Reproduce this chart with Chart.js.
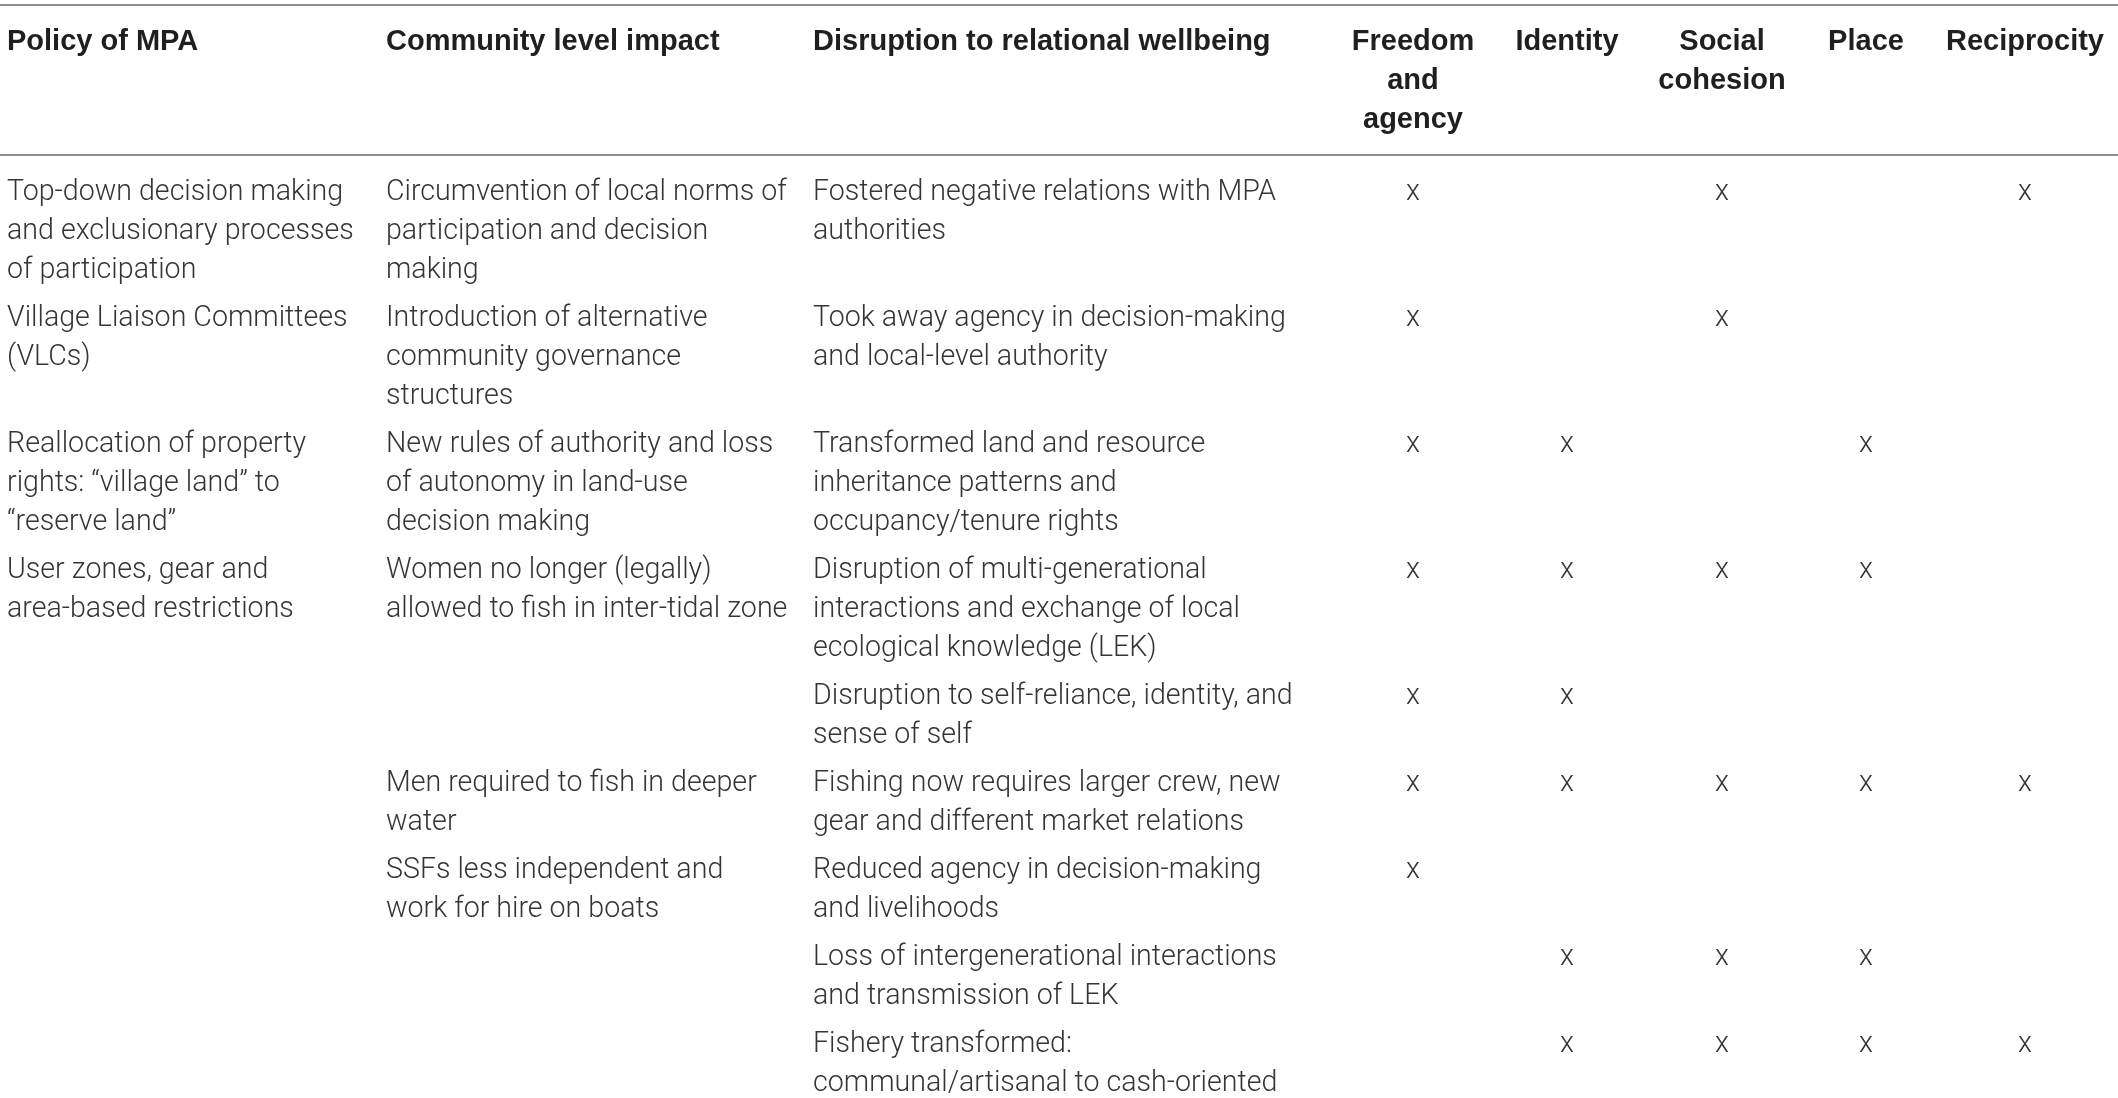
<!DOCTYPE html>
<html>
<head>
<meta charset="utf-8">
<title>Policy of MPA and disruption to relational wellbeing</title>
<script src="https://cdn.jsdelivr.net/npm/chart.js@4.4.1/dist/chart.umd.min.js"></script>
<style>
  html, body { margin: 0; padding: 0; background: #fff; }
  canvas { display: block; }
</style>
</head>
<body>
<canvas id="table" width="2118" height="1098" aria-label="Policy of MPA, community level impact and disruption to relational wellbeing"></canvas>
<script>
// column headings (one entry per printed line)
const headers = [
  ["Policy of MPA"],
  ["Community level impact"],
  ["Disruption to relational wellbeing"],
  ["Freedom", "and", "agency"],
  ["Identity"],
  ["Social", "cohesion"],
  ["Place"],
  ["Reciprocity"]
];

// first column: which table row each policy starts on
const policyRows = [0, 1, 2, 3];
const policies = [
  ["Top-down decision making", "and exclusionary processes", "of participation"],
  ["Village Liaison Committees", "(VLCs)"],
  ["Reallocation of property", "rights: \u201cvillage land\u201d to", "\u201creserve land\u201d"],
  ["User zones, gear and", "area-based restrictions"]
];

const impactRows = [0, 1, 2, 3, 5, 6];
const impacts = [
  ["Circumvention of local norms of", "participation and decision", "making"],
  ["Introduction of alternative", "community governance", "structures"],
  ["New rules of authority and loss", "of autonomy in land-use", "decision making"],
  ["Women no longer (legally)", "allowed to fish in inter-tidal zone"],
  ["Men required to fish in deeper", "water"],
  ["SSFs less independent and", "work for hire on boats"]
];

// one disruption per table row
const disruptions = [
  ["Fostered negative relations with MPA", "authorities"],
  ["Took away agency in decision-making", "and local-level authority"],
  ["Transformed land and resource", "inheritance patterns and", "occupancy/tenure rights"],
  ["Disruption of multi-generational", "interactions and exchange of local", "ecological knowledge (LEK)"],
  ["Disruption to self-reliance, identity, and", "sense of self"],
  ["Fishing now requires larger crew, new", "gear and different market relations"],
  ["Reduced agency in decision-making", "and livelihoods"],
  ["Loss of intergenerational interactions", "and transmission of LEK"],
  ["Fishery transformed:", "communal/artisanal to cash-oriented"]
];

// rows marked "x" in each wellbeing column
const freedomRows = [0, 1, 2, 3, 4, 5, 6];
const identityRows = [2, 3, 4, 5, 7, 8];
const cohesionRows = [0, 1, 3, 5, 7, 8];
const placeRows = [2, 3, 5, 7, 8];
const reciprocityRows = [0, 5, 8];

// ---- layout ----
const W = 2118, H = 1098;
const textX = [7, 386, 813];
const markX = [1413, 1567, 1722, 1866, 2025];
const rules = [5, 155];
const headBase = 50, bodyBase = 200, lineStep = 39, rowGap = 9;

const bodyFont = '300 28.6px Roboto, "Liberation Sans", sans-serif';
const headFont = 'bold 29px "Liberation Sans", Arial, sans-serif';

const rowLines = disruptions.map((d, r) => {
  let n = d.length;
  const p = policyRows.indexOf(r);
  if (p >= 0) n = Math.max(n, policies[p].length);
  const m = impactRows.indexOf(r);
  if (m >= 0) n = Math.max(n, impacts[m].length);
  return n;
});
const rowBase = [];
rowLines.reduce((y, n, r) => { rowBase[r] = y; return y + n * lineStep + rowGap; }, bodyBase);

function cellPoints(rows, cells, col) {
  return cells.flatMap((lines, i) =>
    lines.map((t, k) => ({ x: textX[col], y: rowBase[rows[i]] + k * lineStep, text: t })));
}

function markPoints(rows, col) {
  return rows.map(r => ({ x: markX[col], y: rowBase[r], text: "x" }));
}

const headPoints = headers.flatMap((lines, c) =>
  lines.map((t, k) => ({
    x: c < 3 ? textX[c] : markX[c - 3],
    y: headBase + k * lineStep,
    text: t,
    align: c < 3 ? "left" : "center"
  })));

function textSet(label, data, font, color, align) {
  return { label, data, textFont: font, textColor: color, textAlign: align,
           pointRadius: 0, pointHoverRadius: 0, clip: false };
}

const cellText = {
  id: "cellText",
  afterDatasetsDraw(chart) {
    const ctx = chart.ctx;
    chart.data.datasets.forEach((ds, i) => {
      const meta = chart.getDatasetMeta(i);
      ctx.save();
      ctx.font = ds.textFont;
      ctx.fillStyle = ds.textColor;
      ctx.textBaseline = "alphabetic";
      meta.data.forEach((el, j) => {
        const p = ds.data[j];
        ctx.textAlign = p.align || ds.textAlign;
        ctx.fillText(p.text, el.x, el.y);
      });
      ctx.restore();
    });
  }
};

const body = "#353535";

new Chart(document.getElementById("table"), {
  type: "scatter",
  data: {
    datasets: [
      textSet("Headers", headPoints, headFont, "#1f1f1f", "left"),
      textSet("Policy of MPA", cellPoints(policyRows, policies, 0), bodyFont, body, "left"),
      textSet("Community level impact", cellPoints(impactRows, impacts, 1), bodyFont, body, "left"),
      textSet("Disruption to relational wellbeing",
              cellPoints(disruptions.map((d, r) => r), disruptions, 2), bodyFont, body, "left"),
      textSet("Freedom and agency", markPoints(freedomRows, 0), bodyFont, body, "center"),
      textSet("Identity", markPoints(identityRows, 1), bodyFont, body, "center"),
      textSet("Social cohesion", markPoints(cohesionRows, 2), bodyFont, body, "center"),
      textSet("Place", markPoints(placeRows, 3), bodyFont, body, "center"),
      textSet("Reciprocity", markPoints(reciprocityRows, 4), bodyFont, body, "center")
    ]
  },
  options: {
    responsive: false,
    devicePixelRatio: 1,
    animation: false,
    events: [],
    layout: { padding: 0 },
    plugins: { legend: { display: false }, tooltip: { enabled: false } },
    scales: {
      x: { type: "linear", min: 0, max: W, display: false },
      y: {
        type: "linear", min: 0, max: H, reverse: true,
        afterBuildTicks: axis => { axis.ticks = rules.map(v => ({ value: v })); },
        ticks: { display: false },
        grid: { color: "#8e8e8e", lineWidth: 2, drawTicks: false },
        border: { display: false }
      }
    }
  },
  plugins: [cellText]
});
</script>
</body>
</html>
